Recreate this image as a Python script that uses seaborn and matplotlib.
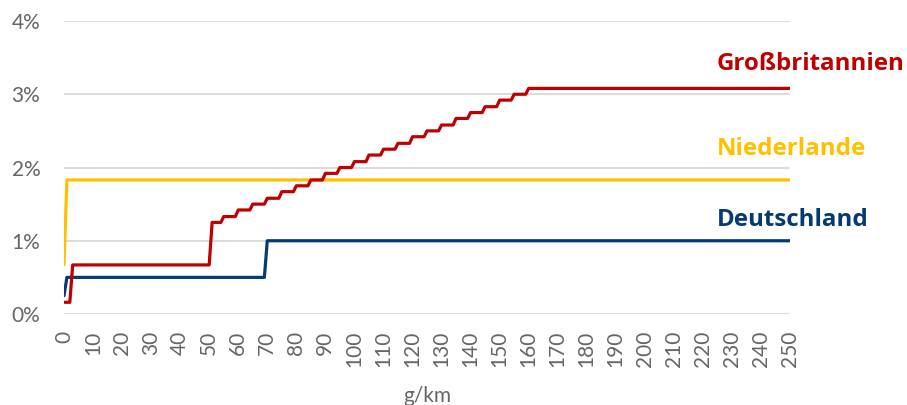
import matplotlib
matplotlib.use("Agg")
import matplotlib.pyplot as plt
import seaborn as sns
import pandas as pd

# ---- data ----
x_max = 250
x_ticks = list(range(0, 251, 10))
y_ticks = [0, 1, 2, 3, 4]
y_tick_labels = ["0%", "1%", "2%", "3%", "4%"]

countries = ["Großbritannien", "Niederlande", "Deutschland"]

# band start (g/km) and value (%) of each step
gb_breaks = [0, 3, 51, 55, 60, 65, 70, 75, 80, 85, 90, 95, 100, 105, 110,
             115, 120, 125, 130, 135, 140, 145, 150, 155, 160]
gb_values = [0.16, 0.67, 1.25, 1.33, 1.42, 1.50, 1.58, 1.67, 1.75, 1.83,
             1.92, 2.00, 2.08, 2.17, 2.25, 2.33, 2.42, 2.50, 2.58, 2.67,
             2.75, 2.83, 2.92, 3.00, 3.08]
nl_breaks = [0, 1]
nl_values = [0.67, 1.83]
de_breaks = [0, 1, 70]
de_values = [0.25, 0.50, 1.00]

colors = {"Großbritannien": "#C00000",
          "Niederlande": "#FFC000",
          "Deutschland": "#063A75"}
label_y = {"Großbritannien": 3.41, "Niederlande": 2.25, "Deutschland": 1.28}


def step_points(breaks, values, end):
    xs, ys = [], []
    for i, (b, v) in enumerate(zip(breaks, values)):
        stop = breaks[i + 1] - 1 if i + 1 < len(breaks) else end
        xs.append(b); ys.append(v)
        if stop != b:
            xs.append(stop); ys.append(v)
    return xs, ys


rows = []
for name, br, vals in [("Großbritannien", gb_breaks, gb_values),
                       ("Niederlande", nl_breaks, nl_values),
                       ("Deutschland", de_breaks, de_values)]:
    xs, ys = step_points(br, vals, x_max)
    for xv, yv in zip(xs, ys):
        rows.append({"g/km": xv, "value": yv, "country": name})
df = pd.DataFrame(rows)

# ---- plot ----
sns.set_theme(style="white")
plt.rcParams["font.family"] = ["Lato", "DejaVu Sans"]

fig = plt.figure(figsize=(9.07, 4.05), dpi=100)
ax = fig.add_axes([64 / 907, 1 - 314 / 405, (790 - 64) / 907, (314 - 21) / 405])

ax.yaxis.grid(True, color="#d9d9d9", linewidth=1.3)
ax.set_axisbelow(True)

sns.lineplot(data=df, x="g/km", y="value", hue="country",
             hue_order=["Niederlande", "Deutschland", "Großbritannien"],
             palette=colors, estimator=None, sort=False, linewidth=2.3,
             legend=False, ax=ax)

ax.set_xlim(0, x_max)
ax.set_ylim(0, 4)
ax.set_xticks(x_ticks)
ax.set_xticklabels([str(t) for t in x_ticks], rotation=90)
ax.set_yticks(y_ticks)
ax.set_yticklabels(y_tick_labels)
ax.tick_params(axis="both", length=0, labelsize=15, labelcolor="#666666")
ax.tick_params(axis="y", pad=17)
ax.tick_params(axis="x", pad=12)
ax.set_xlabel("g/km", fontsize=15, color="#666666", labelpad=14)
ax.set_ylabel("")
for s in ax.spines.values():
    s.set_visible(False)

texts = []
for name in countries:
    t = ax.text(224.7, label_y[name], name, color=colors[name], fontsize=16,
                fontweight="bold", va="center", ha="left", clip_on=False,
                family=["Open Sans", "DejaVu Sans"])
    texts.append(t)

# scale label font so that the widest label spans ~188 px as in the reference
fig.canvas.draw()
r = fig.canvas.get_renderer()
w = texts[0].get_window_extent(r).width
for t in texts:
    t.set_fontsize(16 * 188 / w)

fig.savefig("out.png", dpi=100)
